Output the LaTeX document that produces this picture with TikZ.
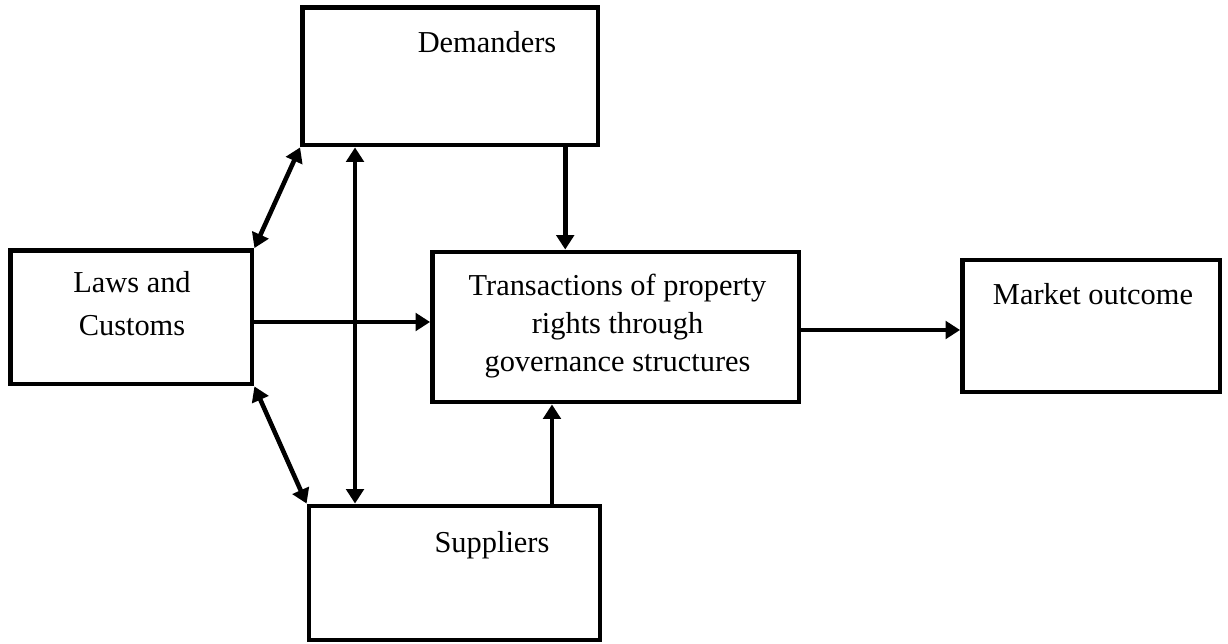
\documentclass[tikz,border=0pt]{standalone}
\usepackage{fontspec}
\setmainfont{Liberation Serif}
\usetikzlibrary{arrows.meta,positioning}

\tikzset{
  box/.style={draw, line width=2.8pt, rectangle, inner sep=0pt},
  link/.style={line width=2.6pt},
  boxtext/.style={font=\fontsize{17.3}{22}\selectfont, align=center, anchor=base, inner sep=0pt},
  >={Triangle[length=0.29cm, width=0.35cm]},
}

\begin{document}
\begin{tikzpicture}[x=0.02cm, y=-0.02cm]
    \useasboundingbox (0,0) rectangle (1228,644);

    % boxes
    \node[box, minimum width=5.91cm, minimum height=2.75cm] (demanders) at (450.25,76.25) {};
    \node[box, minimum width=4.83cm, minimum height=2.67cm] (laws) at (131.25,317.25) {};
    \node[box, minimum width=7.33cm, minimum height=3.00cm] (trans) at (615.75,327) {};
    \node[box, minimum width=5.15cm, minimum height=2.64cm] (market) at (1091.25,326) {};
    \node[box, minimum width=5.82cm, minimum height=2.68cm] (suppliers) at (454.5,573) {};

    % texts (multi-line ones sit on their last line)
    \node[boxtext] (demanders-text) at (487,53) {Demanders};
    \node[boxtext, font=\fontsize{17.3}{25}\selectfont] (laws-text) at (132,336) {Laws and\\Customs};
    \node[boxtext, font=\fontsize{17.3}{21.8}\selectfont] (trans-text) at (617.5,372) {Transactions of property\\rights through\\governance structures};
    \node[boxtext] (market-text) at (1093,305) {Market outcome};
    \node[boxtext] (suppliers-text) at (492,553) {Suppliers};

    % links
    \draw[link, <->] (laws.north east) -- (demanders.south west);
    \draw[link, <->] (laws.south east) -- (suppliers.north west);
    \draw[link, <->] ([xshift=-1.905cm]demanders.south) -- ([xshift=-1.905cm]demanders.south |- suppliers.north);
    \draw[link, ->] ([xshift=2.3cm]demanders.south) -- ([xshift=2.3cm]demanders.south |- trans.north);
    \draw[link, ->] ([xshift=1.95cm]suppliers.north) -- ([xshift=1.95cm]suppliers.north |- trans.south);
    \draw[link, ->] ([yshift=-0.095cm]laws.east) -- ([yshift=-0.095cm]laws.east -| trans.west);
    \draw[link, ->] ([yshift=-0.06cm]trans.east) -- ([yshift=-0.06cm]trans.east -| market.west);
\end{tikzpicture}
\end{document}
